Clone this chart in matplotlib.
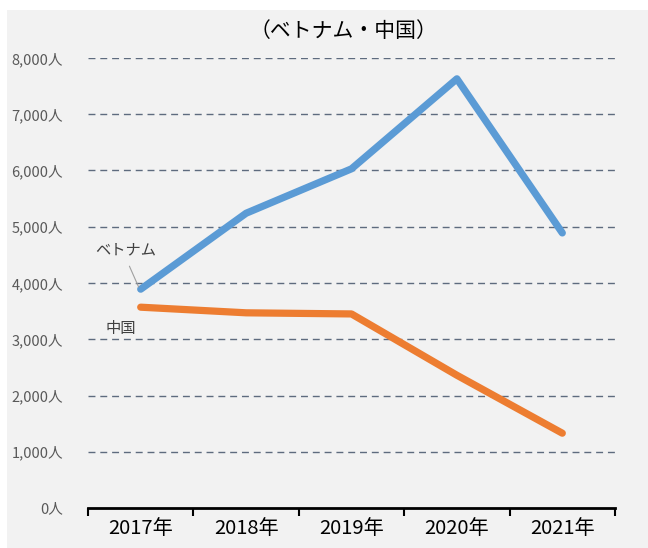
import numpy as np
import matplotlib.pyplot as plt
from matplotlib.patches import Rectangle

plt.rcParams['font.family'] = ['Noto Sans CJK JP', 'DejaVu Sans']

# DATA
years = ['2017年', '2018年', '2019年', '2020年', '2021年']
vietnam = [3890, 5240, 6030, 7630, 4890]
china = [3570, 3470, 3450, 2360, 1330]
yticks = [0, 1000, 2000, 3000, 4000, 5000, 6000, 7000, 8000]
ylabels = ['0人', '1,000人', '2,000人', '3,000人', '4,000人',
           '5,000人', '6,000人', '7,000人', '8,000人']

W, H = 648, 548
fig = plt.figure(figsize=(W / 100, H / 100), dpi=100)
fig.patches.append(Rectangle((7 / W, 0), 1, 1 - 10 / H, transform=fig.transFigure,
                             facecolor='#f2f2f2', edgecolor='none', zorder=-10))

ax = fig.add_axes([88 / W, 40 / H, (615 - 88) / W, (508 - 58) / H])
ax.set_facecolor('none')

x = np.arange(len(years))
ax.plot(x, vietnam, color='#5b9bd5', lw=5.2, solid_capstyle='round',
        solid_joinstyle='round', zorder=3)
ax.plot(x, china, color='#ed7d31', lw=5.2, solid_capstyle='round',
        solid_joinstyle='round', zorder=3)

ax.set_xlim(-0.5, len(years) - 0.5)
ax.set_ylim(0, 8000)

# grid
for v in yticks[1:]:
    ax.axhline(v, color='#44546a', lw=1.0, ls=(0, (5, 3.5)), zorder=1, alpha=0.85)

for s in ['top', 'right', 'left']:
    ax.spines[s].set_visible(False)
ax.spines['bottom'].set_linewidth(2)
ax.spines['bottom'].set_color('black')

ax.set_yticks(yticks)
ax.set_yticklabels(ylabels, fontsize=10.5, color='#595959')
ax.tick_params(axis='y', length=0, pad=18)

ax.set_xticks(x)
ax.set_xticklabels(years, fontsize=14.5, color='black')
ax.set_xticks(np.arange(len(years) + 1) - 0.5, minor=True)
ax.tick_params(axis='x', which='major', length=0, pad=7)
ax.tick_params(axis='x', which='minor', length=6, width=1.5, color='black', direction='in')
for t in ax.xaxis.get_minorticklines():
    t.set_marker(3)

fig.text(343 / W, 1 - 31 / H, '（ベトナム・中国）', fontsize=15, ha='center', va='center')

ax.annotate('ベトナム', xy=(-0.02, 3930), xytext=(-0.14, 4590),
            fontsize=11, color='#404040', ha='center', va='center',
            arrowprops=dict(arrowstyle='-', color='#a0a0a0', lw=0.8,
                            shrinkA=4, shrinkB=0, relpos=(0.5, 0)))
ax.text(-0.19, 3200, '中国', fontsize=11, color='#404040', ha='center', va='center')

fig.savefig('out.png', dpi=100)
